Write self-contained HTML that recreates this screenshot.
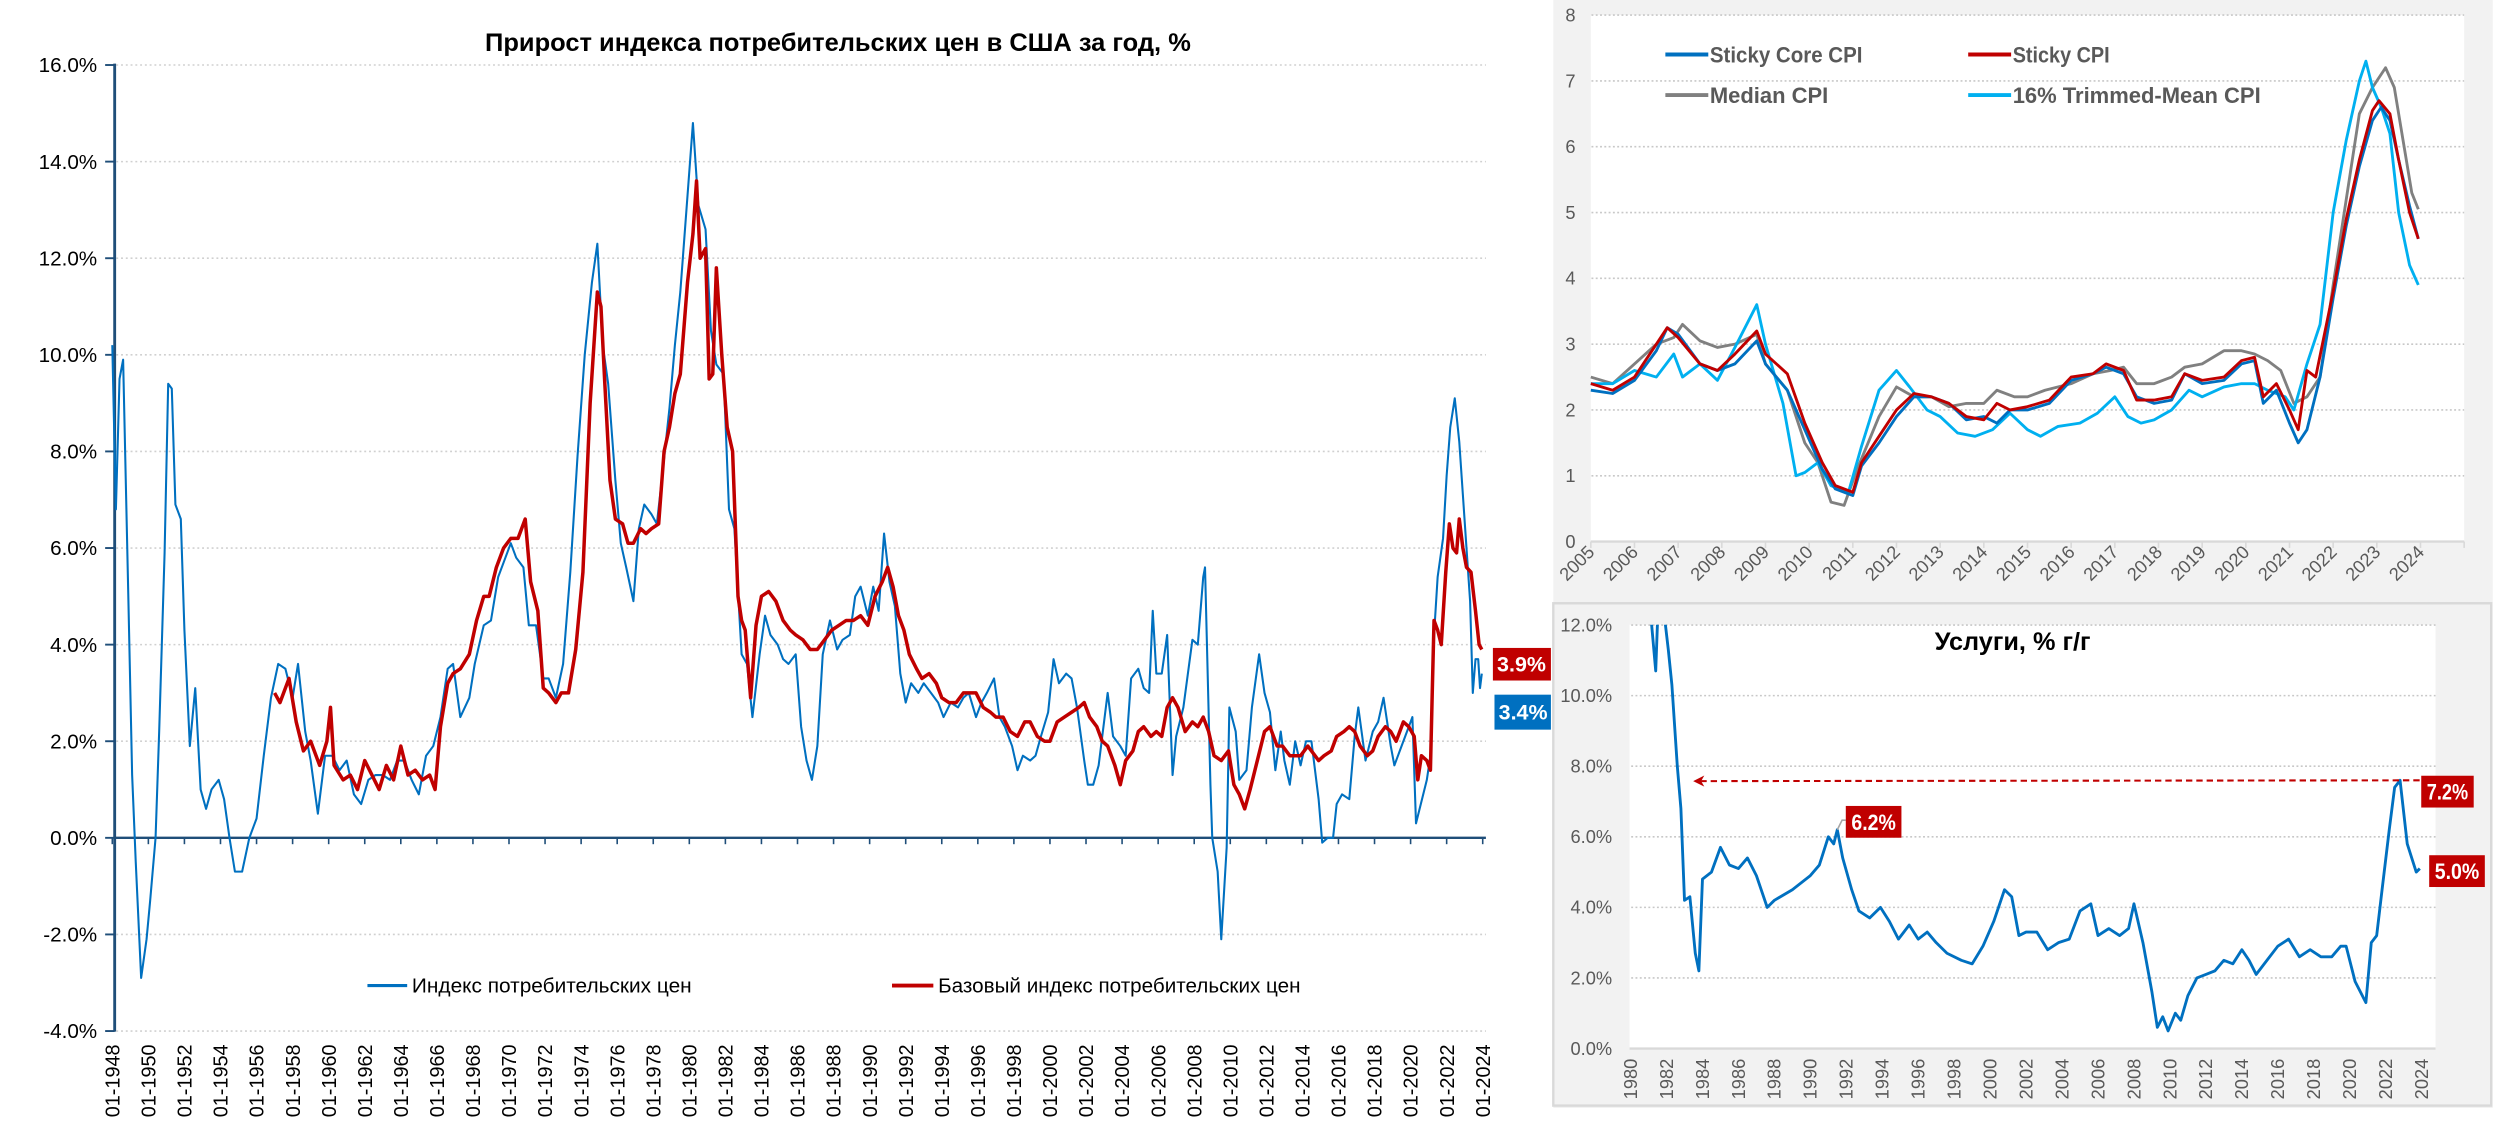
<!DOCTYPE html>
<html><head><meta charset="utf-8">
<style>
html,body{margin:0;padding:0;background:#fff;}
svg{display:block;}
text{font-family:"Liberation Sans","DejaVu Sans",sans-serif;}
.nar{font-family:"Liberation Sans Narrow","Liberation Sans",sans-serif;}
</style></head>
<body>
<svg id="root" xmlns="http://www.w3.org/2000/svg" width="2493" height="1135" viewBox="0 0 1568 714">
  <rect x="977" y="0" width="591" height="697" fill="#f2f2f2"/>
  <rect x="1000.6" y="9.5" width="549.4" height="331.2" fill="#fff"/>
  <rect x="977" y="379.5" width="590" height="316" fill="#f2f2f2" stroke="#d9d9d9" stroke-width="1.5"/>
  <rect x="1025" y="393" width="507" height="266.6" fill="#fff"/>
  <g id="g1"></g>
  <g id="g2"></g>
  <g id="g3"></g>
</svg>
<script>
// ---------- Chart 1 data ----------
const cpiDates=[1948.0,1948.2,1948.4,1948.6,1948.9,1949.1,1949.3,1949.6,1949.9,1950.1,1950.4,1950.6,1950.9,1951.1,1951.3,1951.5,1951.8,1952.0,1952.3,1952.6,1952.9,1953.2,1953.5,1953.9,1954.2,1954.5,1954.8,1955.2,1955.6,1956.0,1956.4,1956.8,1957.2,1957.6,1958.0,1958.3,1958.7,1959.0,1959.4,1959.8,1960.2,1960.6,1961.0,1961.4,1961.8,1962.2,1962.6,1963.0,1963.4,1963.8,1964.2,1964.6,1965.0,1965.4,1965.8,1966.2,1966.6,1966.9,1967.3,1967.8,1968.1,1968.6,1969.0,1969.4,1969.8,1970.1,1970.4,1970.8,1971.1,1971.5,1971.9,1972.2,1972.6,1973.0,1973.4,1973.8,1974.2,1974.6,1974.9,1975.2,1975.5,1975.9,1976.2,1976.5,1976.9,1977.2,1977.5,1977.9,1978.2,1978.5,1978.9,1979.2,1979.5,1979.9,1980.2,1980.5,1980.9,1981.2,1981.5,1981.9,1982.2,1982.5,1982.9,1983.2,1983.5,1983.9,1984.2,1984.5,1984.9,1985.2,1985.5,1985.9,1986.2,1986.5,1986.8,1987.1,1987.4,1987.8,1988.2,1988.5,1988.9,1989.2,1989.5,1989.9,1990.2,1990.5,1990.8,1991.1,1991.4,1991.7,1992.0,1992.3,1992.7,1993.0,1993.4,1993.8,1994.1,1994.5,1994.9,1995.2,1995.5,1995.9,1996.2,1996.5,1996.9,1997.2,1997.5,1997.9,1998.2,1998.5,1998.9,1999.2,1999.5,1999.9,2000.2,2000.5,2000.9,2001.2,2001.5,2001.9,2002.1,2002.4,2002.7,2003.0,2003.2,2003.5,2003.9,2004.2,2004.5,2004.9,2005.2,2005.5,2005.7,2005.9,2006.2,2006.5,2006.8,2007.0,2007.4,2007.9,2008.2,2008.5,2008.6,2008.9,2009.0,2009.3,2009.5,2009.8,2009.95,2010.3,2010.5,2010.9,2011.2,2011.6,2011.9,2012.2,2012.5,2012.8,2013.0,2013.3,2013.6,2013.9,2014.2,2014.5,2014.9,2015.1,2015.4,2015.7,2015.9,2016.2,2016.6,2016.9,2017.1,2017.5,2017.9,2018.2,2018.5,2018.9,2019.1,2019.4,2019.9,2020.1,2020.3,2020.5,2020.9,2021.1,2021.3,2021.5,2021.8,2022.0,2022.2,2022.45,2022.7,2022.9,2023.1,2023.3,2023.45,2023.6,2023.75,2023.85,2023.95];
const cpiVals=[10.2,6.8,9.5,9.9,4.8,1.3,-0.5,-2.9,-2.1,-1.3,0.0,2.2,5.9,9.4,9.3,6.9,6.6,4.3,1.9,3.1,1.0,0.6,1.0,1.2,0.8,0.0,-0.7,-0.7,0.0,0.4,1.7,2.9,3.6,3.5,2.9,3.6,2.2,1.6,0.5,1.7,1.7,1.4,1.6,0.9,0.7,1.2,1.3,1.3,1.2,1.6,1.6,1.2,0.9,1.7,1.9,2.5,3.5,3.6,2.5,2.9,3.6,4.4,4.5,5.4,5.8,6.1,5.8,5.6,4.4,4.4,3.3,3.3,2.9,3.6,5.5,7.9,10.0,11.5,12.3,10.2,9.4,7.4,6.1,5.6,4.9,6.4,6.9,6.7,6.5,7.5,8.9,10.2,11.3,13.3,14.8,13.1,12.6,10.5,9.8,9.6,6.8,6.4,3.8,3.6,2.5,3.8,4.6,4.2,4.0,3.7,3.6,3.8,2.3,1.6,1.2,1.9,3.8,4.5,3.9,4.1,4.2,5.0,5.2,4.6,5.2,4.7,6.3,5.3,4.8,3.4,2.8,3.2,3.0,3.2,3.0,2.8,2.5,2.8,2.7,2.9,3.0,2.5,2.8,3.0,3.3,2.5,2.3,1.9,1.4,1.7,1.6,1.7,2.1,2.6,3.7,3.2,3.4,3.3,2.7,1.6,1.1,1.1,1.5,2.4,3.0,2.1,1.9,1.7,3.3,3.5,3.1,3.0,4.7,3.4,3.4,4.2,1.3,2.1,2.7,4.1,4.0,5.4,5.6,1.1,0.0,-0.7,-2.1,-0.2,2.7,2.2,1.2,1.4,2.7,3.8,3.0,2.6,1.4,2.2,1.6,1.1,2.0,1.5,2.0,2.0,0.8,-0.1,0.0,0.0,0.7,0.9,0.8,2.1,2.7,1.6,2.2,2.4,2.9,1.9,1.5,1.8,2.3,2.5,0.3,0.6,1.2,1.7,4.2,5.4,6.2,7.5,8.5,9.1,8.2,7.1,6.0,4.9,3.0,3.7,3.7,3.1,3.4];
const coreDates=[1957.0,1957.3,1957.8,1958.2,1958.6,1959.0,1959.5,1959.9,1960.1,1960.3,1960.8,1961.2,1961.6,1962.0,1962.4,1962.8,1963.2,1963.6,1964.0,1964.4,1964.8,1965.2,1965.6,1965.9,1966.2,1966.6,1966.9,1967.3,1967.8,1968.2,1968.6,1968.9,1969.3,1969.7,1970.1,1970.5,1970.9,1971.2,1971.6,1971.9,1972.2,1972.6,1972.9,1973.3,1973.7,1974.1,1974.5,1974.9,1975.1,1975.3,1975.6,1975.9,1976.3,1976.6,1976.9,1977.3,1977.6,1977.9,1978.3,1978.6,1978.9,1979.2,1979.5,1979.9,1980.2,1980.4,1980.6,1980.9,1981.1,1981.3,1981.5,1981.8,1982.1,1982.4,1982.7,1982.9,1983.1,1983.4,1983.7,1984.0,1984.4,1984.8,1985.2,1985.6,1985.9,1986.3,1986.7,1987.1,1987.5,1987.9,1988.3,1988.7,1989.1,1989.5,1989.9,1990.3,1990.7,1991.0,1991.3,1991.6,1991.9,1992.2,1992.6,1992.9,1993.3,1993.7,1994.0,1994.4,1994.8,1995.2,1995.6,1995.9,1996.3,1996.7,1997.0,1997.4,1997.8,1998.2,1998.6,1998.9,1999.3,1999.7,2000.0,2000.4,2000.8,2001.2,2001.6,2001.9,2002.2,2002.6,2002.9,2003.2,2003.6,2003.9,2004.2,2004.6,2004.9,2005.2,2005.6,2005.9,2006.2,2006.5,2006.8,2007.1,2007.5,2007.9,2008.2,2008.5,2008.8,2009.1,2009.5,2009.9,2010.2,2010.5,2010.8,2011.1,2011.5,2011.9,2012.2,2012.6,2012.9,2013.3,2013.7,2013.9,2014.3,2014.7,2014.9,2015.2,2015.6,2015.9,2016.3,2016.6,2016.9,2017.2,2017.6,2017.9,2018.2,2018.6,2018.9,2019.2,2019.6,2019.9,2020.2,2020.4,2020.6,2020.9,2021.1,2021.2,2021.3,2021.5,2021.7,2021.95,2022.15,2022.35,2022.55,2022.7,2022.9,2023.1,2023.35,2023.6,2023.8,2023.95];
const coreVals=[3.0,2.8,3.3,2.4,1.8,2.0,1.5,2.0,2.7,1.5,1.2,1.3,1.0,1.6,1.3,1.0,1.5,1.2,1.9,1.3,1.4,1.2,1.3,1.0,2.3,3.2,3.4,3.5,3.8,4.5,5.0,5.0,5.6,6.0,6.2,6.2,6.6,5.3,4.7,3.1,3.0,2.8,3.0,3.0,3.9,5.5,9.0,11.3,11.0,9.5,7.4,6.6,6.5,6.1,6.1,6.4,6.3,6.4,6.5,8.0,8.5,9.2,9.6,11.5,12.5,13.6,12.0,12.2,9.5,9.6,11.8,10.0,8.5,8.0,5.0,4.5,4.3,2.9,4.4,5.0,5.1,4.9,4.5,4.3,4.2,4.1,3.9,3.9,4.1,4.3,4.4,4.5,4.5,4.6,4.4,5.0,5.3,5.6,5.2,4.6,4.3,3.8,3.5,3.3,3.4,3.2,2.9,2.8,2.8,3.0,3.0,3.0,2.7,2.6,2.5,2.5,2.2,2.1,2.4,2.4,2.1,2.0,2.0,2.4,2.5,2.6,2.7,2.8,2.5,2.3,2.0,1.9,1.5,1.1,1.6,1.8,2.2,2.3,2.1,2.2,2.1,2.7,2.9,2.7,2.2,2.4,2.3,2.5,2.2,1.7,1.6,1.8,1.1,0.9,0.6,1.0,1.6,2.2,2.3,1.9,1.9,1.7,1.7,1.7,1.9,1.7,1.6,1.7,1.8,2.1,2.2,2.3,2.2,1.9,1.7,1.8,2.1,2.3,2.2,2.0,2.4,2.3,2.1,1.2,1.7,1.6,1.4,3.0,4.5,4.3,4.0,5.5,6.5,6.0,5.9,6.6,6.0,5.6,5.5,4.7,4.0,3.9];
const cpiYTicks=[-4,-2,0,2,4,6,8,10,12,14,16];
const cpiXTicks=[1948,1950,1952,1954,1956,1958,1960,1962,1964,1966,1968,1970,1972,1974,1976,1978,1980,1982,1984,1986,1988,1990,1992,1994,1996,1998,2000,2002,2004,2006,2008,2010,2012,2014,2016,2018,2020,2022,2024];
const cpiEndLabels=["3.9%","3.4%"];

// ---------- Chart 2 data ----------
const stCoreDates=[2005.0,2005.5,2006.0,2006.5,2006.75,2007.0,2007.5,2007.9,2008.3,2008.8,2009.0,2009.5,2009.9,2010.3,2010.6,2011.0,2011.2,2011.6,2012.0,2012.4,2012.8,2013.2,2013.6,2014.0,2014.3,2014.6,2015.0,2015.5,2016.0,2016.5,2016.8,2017.2,2017.5,2017.9,2018.3,2018.6,2019.0,2019.5,2019.9,2020.2,2020.4,2020.7,2021.0,2021.2,2021.4,2021.7,2022.0,2022.3,2022.6,2022.9,2023.1,2023.3,2023.5,2023.75,2023.95];
const stCoreVals=[2.3,2.25,2.45,2.9,3.25,3.15,2.7,2.6,2.7,3.05,2.7,2.3,1.7,1.1,0.8,0.7,1.15,1.5,1.9,2.2,2.2,2.1,1.85,1.9,1.8,2.0,2.0,2.1,2.45,2.55,2.65,2.55,2.2,2.1,2.15,2.55,2.4,2.45,2.7,2.75,2.1,2.3,1.8,1.5,1.7,2.5,3.7,4.8,5.7,6.4,6.6,6.4,5.8,5.1,4.6];
const stickyDates=[2005.0,2005.5,2006.0,2006.5,2006.75,2007.0,2007.5,2007.9,2008.3,2008.8,2009.0,2009.5,2009.9,2010.3,2010.6,2011.0,2011.2,2011.6,2012.0,2012.4,2012.8,2013.2,2013.6,2014.0,2014.3,2014.6,2015.0,2015.5,2016.0,2016.5,2016.8,2017.2,2017.5,2017.9,2018.3,2018.6,2019.0,2019.5,2019.9,2020.2,2020.4,2020.7,2021.0,2021.2,2021.4,2021.6,2022.0,2022.3,2022.6,2022.9,2023.05,2023.3,2023.5,2023.75,2023.95];
const stickyVals=[2.4,2.3,2.5,3.0,3.25,3.1,2.7,2.6,2.85,3.2,2.85,2.55,1.8,1.2,0.85,0.75,1.2,1.6,2.0,2.25,2.2,2.1,1.9,1.85,2.1,2.0,2.05,2.15,2.5,2.55,2.7,2.6,2.15,2.15,2.2,2.55,2.45,2.5,2.75,2.8,2.2,2.4,2.0,1.7,2.6,2.5,3.8,4.9,5.8,6.55,6.7,6.5,5.8,5.0,4.6];
const medianDates=[2005.0,2005.5,2006.0,2006.5,2006.9,2007.1,2007.5,2007.9,2008.3,2008.8,2009.0,2009.5,2009.9,2010.2,2010.5,2010.8,2011.1,2011.6,2012.0,2012.4,2012.8,2013.2,2013.6,2014.0,2014.3,2014.7,2015.0,2015.4,2016.0,2016.5,2016.9,2017.2,2017.5,2017.9,2018.3,2018.6,2019.0,2019.5,2019.9,2020.2,2020.5,2020.8,2021.1,2021.4,2021.7,2022.0,2022.3,2022.6,2022.9,2023.2,2023.4,2023.6,2023.8,2023.95];
const medianVals=[2.5,2.4,2.7,3.0,3.1,3.3,3.05,2.95,3.0,3.15,2.7,2.3,1.5,1.2,0.6,0.55,1.1,1.9,2.35,2.2,2.2,2.05,2.1,2.1,2.3,2.2,2.2,2.3,2.4,2.55,2.6,2.65,2.4,2.4,2.5,2.65,2.7,2.9,2.9,2.85,2.75,2.6,2.1,2.2,2.5,3.9,5.2,6.5,6.9,7.2,6.9,6.1,5.3,5.05];
const trimDates=[2005.0,2005.5,2006.0,2006.5,2006.9,2007.1,2007.5,2007.9,2008.3,2008.8,2009.0,2009.4,2009.7,2009.9,2010.2,2010.5,2010.9,2011.2,2011.6,2012.0,2012.3,2012.7,2013.0,2013.4,2013.8,2014.2,2014.6,2015.0,2015.3,2015.7,2016.2,2016.6,2017.0,2017.3,2017.6,2017.9,2018.3,2018.7,2019.0,2019.5,2019.9,2020.2,2020.5,2020.9,2021.1,2021.4,2021.7,2022.0,2022.3,2022.6,2022.75,2022.9,2023.1,2023.3,2023.5,2023.75,2023.95];
const trimVals=[2.4,2.4,2.6,2.5,2.85,2.5,2.7,2.45,2.95,3.6,3.0,2.1,1.0,1.05,1.2,0.85,0.75,1.45,2.3,2.6,2.35,2.0,1.9,1.65,1.6,1.7,1.95,1.7,1.6,1.75,1.8,1.95,2.2,1.9,1.8,1.85,2.0,2.3,2.2,2.35,2.4,2.4,2.3,2.2,2.0,2.7,3.3,5.0,6.1,7.0,7.3,6.9,6.6,6.2,5.0,4.2,3.9];
const stickyYTicks=[0,1,2,3,4,5,6,7,8];
const stickyXLabels=[2005,2006,2007,2008,2009,2010,2011,2012,2013,2014,2015,2016,2017,2018,2019,2020,2021,2022,2023,2024];
const stickyLegend=["Sticky Core CPI","Sticky CPI","Median CPI","16% Trimmed-Mean CPI"];

// ---------- Chart 3 data ----------
const svcDates=[1980.0,1980.6,1981.0,1981.4,1981.6,1982.1,1982.3,1982.6,1982.8,1983.0,1983.3,1983.6,1983.8,1984.0,1984.5,1985.0,1985.5,1986.0,1986.5,1987.0,1987.6,1988.0,1989.0,1990.0,1990.5,1991.0,1991.3,1991.5,1991.8,1992.3,1992.7,1993.3,1993.9,1994.4,1994.9,1995.5,1996.0,1996.5,1997.0,1997.6,1998.4,1999.0,1999.6,2000.2,2000.8,2001.2,2001.6,2002.0,2002.6,2003.2,2003.8,2004.4,2005.0,2005.6,2006.0,2006.6,2007.2,2007.7,2008.0,2008.5,2009.0,2009.3,2009.6,2009.9,2010.3,2010.6,2011.0,2011.5,2012.0,2012.5,2013.0,2013.5,2014.0,2014.4,2014.8,2015.4,2016.0,2016.6,2017.2,2017.8,2018.4,2019.0,2019.5,2019.8,2020.3,2020.9,2021.2,2021.5,2021.8,2022.2,2022.5,2022.8,2023.2,2023.7,2023.9];
const svcVals=[15.0,14.5,13.0,10.7,13.5,11.3,10.3,8.0,6.8,4.2,4.3,2.7,2.2,4.8,5.0,5.7,5.2,5.1,5.4,4.9,4.0,4.2,4.5,4.9,5.2,6.0,5.8,6.2,5.4,4.5,3.9,3.7,4.0,3.6,3.1,3.5,3.1,3.3,3.0,2.7,2.5,2.4,2.9,3.6,4.5,4.3,3.2,3.3,3.3,2.8,3.0,3.1,3.9,4.1,3.2,3.4,3.2,3.4,4.1,3.0,1.6,0.6,0.9,0.5,1.0,0.8,1.5,2.0,2.1,2.2,2.5,2.4,2.8,2.5,2.1,2.5,2.9,3.1,2.6,2.8,2.6,2.6,2.9,2.9,1.9,1.3,3.0,3.2,4.5,6.2,7.4,7.6,5.8,5.0,5.1];
const svcYTicks=[0,2,4,6,8,10,12];
const svcXLabels=[1980,1982,1984,1986,1988,1990,1992,1994,1996,1998,2000,2002,2004,2006,2008,2010,2012,2014,2016,2018,2020,2022,2024];
const svcCallouts=["6.2%","7.2%","5.0%"];

const NS='http://www.w3.org/2000/svg';
function mk(tag,parent,attrs){const e=document.createElementNS(NS,tag);for(const k in attrs)e.setAttribute(k,attrs[k]);parent.appendChild(e);return e;}
function pathD(xs,ys,fx,fy){let d='';for(let i=0;i<xs.length;i++){d+=(i?'L':'M')+fx(xs[i]).toFixed(2)+' '+fy(ys[i]).toFixed(2);}return d;}
const root=document.getElementById('root');
const defs=mk('defs',root,{});
const cp=mk('clipPath',defs,{id:'svcClip'});
mk('rect',cp,{x:1020,y:393,width:520,height:270});

// ---------- Chart 1 ----------
const g1=document.getElementById('g1');
const x1=v=>70.5+(v-1948)*(932.6-70.5)/76;
const y1=v=>40.9+(16-v)*30.385;
cpiYTicks.forEach(t=>{
  if(t!==0){
    const gl=mk('line',g1,{x1:73,x2:934.6,y1:y1(t),y2:y1(t),stroke:'#d0d0d0','stroke-width':1,'stroke-dasharray':'1.2 1.8'});
    
    
  }
  const tk=mk('line',g1,{x1:66,x2:72,y1:y1(t),y2:y1(t),stroke:'#1f4e79','stroke-width':1.2});
  
  
  const tl=mk('text',g1,{x:61,y:y1(t)+4.5,'text-anchor':'end','font-size':13,fill:'#000'});
  tl.textContent=t.toFixed(1)+'%';
  
  
});
const ax1=mk('line',g1,{x1:72,x2:72,y1:40,y2:649,stroke:'#1f4e79','stroke-width':1.8});


const zx1=mk('line',g1,{x1:72,x2:934.6,y1:y1(0),y2:y1(0),stroke:'#1f4e79','stroke-width':1.5});


cpiXTicks.forEach(t=>{
  const tk=mk('line',g1,{x1:x1(t),x2:x1(t),y1:y1(0),y2:y1(0)+4,stroke:'#1f4e79','stroke-width':1});
  
  
  const tl=mk('text',g1,{x:x1(t)+4.5,y:657,'text-anchor':'end','font-size':12.5,fill:'#000',transform:`rotate(-90 ${x1(t)+4.5} 657)`});
  tl.textContent='01-'+t;
  
  
});
const cpiLine=mk('path',g1,{d:pathD(cpiDates,cpiVals,x1,y1),fill:'none',stroke:'#0070c0','stroke-width':1.3,'stroke-linejoin':'round'});


const coreLine=mk('path',g1,{d:pathD(coreDates,coreVals,x1,y1),fill:'none',stroke:'#c00000','stroke-width':2.2,'stroke-linejoin':'round'});


const t1=mk('text',g1,{x:527,y:32,'text-anchor':'middle','font-size':15.5,'font-weight':'bold',fill:'#000',textLength:444,lengthAdjust:'spacingAndGlyphs'});
t1.textContent='Прирост индекса потребительских цен  в США за год, %';


const lg1=mk('line',g1,{x1:231,x2:256,y1:620,y2:620,stroke:'#0070c0','stroke-width':2});


const lt1=mk('text',g1,{x:259,y:624.5,'font-size':13,fill:'#000',textLength:176,lengthAdjust:'spacingAndGlyphs'});
lt1.textContent='Индекс потребительских цен';


const lg2=mk('line',g1,{x1:561,x2:587,y1:620,y2:620,stroke:'#c00000','stroke-width':2.5});


const lt2=mk('text',g1,{x:590,y:624.5,'font-size':13,fill:'#000',textLength:228,lengthAdjust:'spacingAndGlyphs'});
lt2.textContent='Базовый индекс потребительских цен';


const eb1=mk('rect',g1,{x:939,y:407.6,width:36.5,height:20.5,fill:'#c00000'});


const et1=mk('text',g1,{x:957,y:422.5,'text-anchor':'middle','font-size':13.5,'font-weight':'bold',fill:'#fff'});
et1.textContent=cpiEndLabels[0];


const eb2=mk('rect',g1,{x:940,y:437,width:35.5,height:22,fill:'#0070c0'});


const et2=mk('text',g1,{x:958,y:452.5,'text-anchor':'middle','font-size':13.5,'font-weight':'bold',fill:'#fff'});
et2.textContent=cpiEndLabels[1];



// ---------- Chart 2 ----------
const g2=document.getElementById('g2');
const x2=v=>1000.6+(v-2005)*27.47;
const y2=v=>340.7-v*41.4;
stickyYTicks.forEach(t=>{
  if(t>0){
    const gl=mk('line',g2,{x1:1001,x2:1550,y1:y2(t),y2:y2(t),stroke:'#c8c8c8','stroke-width':1,'stroke-dasharray':'1.2 1.5'});
    
    
  }
  const tl=mk('text',g2,{x:991,y:y2(t)+4,'text-anchor':'end','font-size':11.5,fill:'#595959'});
  tl.setAttribute('class','nar');
  tl.textContent=t;
  
  
});
const ax2=mk('line',g2,{x1:1000.6,x2:1550,y1:y2(0),y2:y2(0),stroke:'#d9d9d9','stroke-width':1.5});


for(let yr=2005;yr<=2025;yr++){
  const tk=mk('line',g2,{x1:x2(yr),x2:x2(yr),y1:y2(0),y2:y2(0)+4,stroke:'#d9d9d9','stroke-width':1});
  
  
}
stickyXLabels.forEach(t=>{
  const tl=mk('text',g2,{x:x2(t)+3,y:348,'text-anchor':'end','font-size':11.5,fill:'#595959',transform:`rotate(-45 ${x2(t)+3} 348)`});
  tl.setAttribute('class','nar');
  tl.textContent=t;
  
  
});
const s2a=mk('path',g2,{d:pathD(medianDates,medianVals,x2,y2),fill:'none',stroke:'#808080','stroke-width':1.8,'stroke-linejoin':'round'});


const s2b=mk('path',g2,{d:pathD(trimDates,trimVals,x2,y2),fill:'none',stroke:'#00b0f0','stroke-width':1.8,'stroke-linejoin':'round'});


const s2c=mk('path',g2,{d:pathD(stCoreDates,stCoreVals,x2,y2),fill:'none',stroke:'#0070c0','stroke-width':1.8,'stroke-linejoin':'round'});


const s2d=mk('path',g2,{d:pathD(stickyDates,stickyVals,x2,y2),fill:'none',stroke:'#c00000','stroke-width':1.8,'stroke-linejoin':'round'});


const legCols=['#0070c0','#c00000','#808080','#00b0f0'];
const legX=[1047.5,1238,1047.5,1238];
const legY=[34.3,34.3,59.8,59.8];
const legW=[96,61,74.5,156];
for(let i=0;i<4;i++){
  const sw=mk('line',g2,{x1:legX[i],x2:legX[i]+27,y1:legY[i],y2:legY[i],stroke:legCols[i],'stroke-width':2.5});
  
  
  const lt=mk('text',g2,{x:legX[i]+28,y:legY[i]+5,'font-size':14,'font-weight':'bold',fill:'#595959',textLength:legW[i],lengthAdjust:'spacingAndGlyphs'});
  lt.setAttribute('class','nar');
  lt.textContent=stickyLegend[i];
  
  
}

// ---------- Chart 3 ----------
const g3=document.getElementById('g3');
const x3=v=>1025.6+(v-1980)*11.31;
const y3=v=>659.6-v*22.2;
svcYTicks.forEach(t=>{
  if(t>0){
    const gl=mk('line',g3,{x1:1026,x2:1532,y1:y3(t),y2:y3(t),stroke:'#c8c8c8','stroke-width':1,'stroke-dasharray':'1.2 1.5'});
    
    
  }
  const tl=mk('text',g3,{x:1014,y:y3(t)+4,'text-anchor':'end','font-size':11.5,fill:'#595959'});
  tl.setAttribute('class','nar');
  tl.textContent=t.toFixed(1)+'%';
  
  
});
const ax3=mk('line',g3,{x1:1025,x2:1532,y1:y3(0),y2:y3(0),stroke:'#d9d9d9','stroke-width':1.5});


svcXLabels.forEach(t=>{
  const tl=mk('text',g3,{x:x3(t)+4,y:666,'text-anchor':'end','font-size':11.5,fill:'#595959',transform:`rotate(-90 ${x3(t)+4} 666)`});
  tl.textContent=t;
  
  
});
const sv=mk('path',g3,{d:pathD(svcDates,svcVals,x3,y3),fill:'none',stroke:'#0070c0','stroke-width':1.8,'stroke-linejoin':'round','clip-path':'url(#svcClip)'});


const t3=mk('text',g3,{x:1266,y:409,'text-anchor':'middle','font-size':15.5,'font-weight':'bold',fill:'#000',textLength:98,lengthAdjust:'spacingAndGlyphs'});
t3.textContent='Услуги, % г/г';


const peakY=y3(svcVals[svcVals.length-4]);
const ar=mk('line',g3,{x1:1522,x2:1070,y1:peakY,y2:peakY+0.5,stroke:'#c00000','stroke-width':1.3,'stroke-dasharray':'4 2.5'});


const ah=mk('path',g3,{d:`M1065 ${peakY+0.5} L1072 ${peakY-3} L1070 ${peakY+0.5} L1072 ${peakY+4} Z`,fill:'#c00000'});


const ld=mk('path',g3,{d:`M${x3(1991.5)} ${y3(6.2)} L${x3(1991.5)+3} ${y3(6.2)-6} L1161 ${y3(6.2)-6}`,fill:'none',stroke:'#a6a6a6','stroke-width':1});


const cbX=[1161,1523,1528];
const cbY=[507,488,538];
const cbW=[35,33,35];
for(let i=0;i<3;i++){
  const b=mk('rect',g3,{x:cbX[i],y:cbY[i],width:cbW[i],height:20,fill:'#c00000'});
  
  
  const tt=mk('text',g3,{x:cbX[i]+cbW[i]/2,y:cbY[i]+15,'text-anchor':'middle','font-size':14,'font-weight':'bold',fill:'#fff',textLength:cbW[i]-7,lengthAdjust:'spacingAndGlyphs'});
  tt.setAttribute('class','nar');
  tt.textContent=svcCallouts[i];
  
  
}
</script>
</body></html>
